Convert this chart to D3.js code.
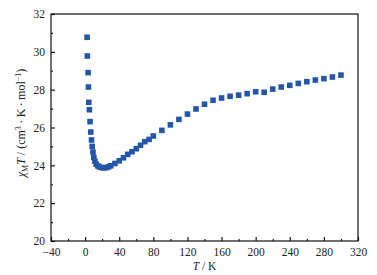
<!DOCTYPE html>
<html><head><meta charset="utf-8">
<script src="https://cdn.jsdelivr.net/npm/d3@7"></script>
<style>body{margin:0;background:#fff}svg{display:block}text{font-family:"Liberation Serif","Times New Roman",serif;fill:#222}</style>
</head><body>
<svg id="c" width="377" height="275"></svg>
<script>
const temps = [2.3,2.6,3.5,3.9,4.3,5,5.8,6.6,7.5,8.3,9.2,10.2,11.5,13,15,17,19.5,22,25,27.5,30,35,40,45,50,55,60,65,70,75,80,90,100,110,120,130,140,150,160,170,180,190,200,210,220,230,240,250,260,270,280,290,300];
const chiT = [30.77,29.78,28.9,28.14,27.33,26.94,26.31,25.76,25.34,25.0,24.7,24.42,24.22,24.06,23.97,23.91,23.88,23.87,23.88,23.92,23.98,24.1,24.24,24.4,24.58,24.72,24.88,25.06,25.25,25.37,25.55,25.85,26.14,26.43,26.71,26.98,27.23,27.44,27.56,27.65,27.71,27.79,27.89,27.86,28.03,28.14,28.23,28.33,28.42,28.51,28.58,28.67,28.77];
const xTicks = [-40,0,40,80,120,160,200,240,280,320];
const yTicks = [20,22,24,26,28,30,32];

const svg = d3.select("#c");
const m = {l:51,t:14,r:358,b:241};
const x = d3.scaleLinear().domain([-40,320]).range([m.l,m.r]);
const y = d3.scaleLinear().domain([20,32]).range([m.b,m.t]);

svg.append("rect").attr("x",m.l).attr("y",m.t).attr("width",m.r-m.l).attr("height",m.b-m.t)
  .attr("fill","none").attr("stroke","#111").attr("stroke-width",1.2);

const xa = svg.append("g").attr("transform",`translate(0,${m.b})`)
  .call(d3.axisBottom(x).tickValues(xTicks).tickSize(-4).tickPadding(7).tickFormat(d3.format("d")));
const xm = svg.append("g").attr("transform",`translate(0,${m.b})`)
  .call(d3.axisBottom(x).tickValues(d3.range(-20,320,40)).tickSize(-2).tickFormat(""));
const ya = svg.append("g").attr("transform",`translate(${m.l},0)`)
  .call(d3.axisLeft(y).tickValues(yTicks).tickSize(-4).tickPadding(6));
const ym = svg.append("g").attr("transform",`translate(${m.l},0)`)
  .call(d3.axisLeft(y).tickValues(d3.range(21,32,2)).tickSize(-2).tickFormat(""));
[xa,xm,ya,ym].forEach(g=>{
  g.select(".domain").remove();
  g.selectAll("line").attr("stroke","#111").attr("stroke-width",1.2);
  g.selectAll("text").attr("font-size",11.5).attr("fill","#222").style("font-family",'"Liberation Serif",serif');
});
xa.selectAll("text").text(d=> d<0 ? "\u2212"+Math.abs(d) : d);

const s = 5.6;
svg.append("g").selectAll("rect").data(temps).join("rect")
  .attr("x",(d)=>x(d)-s/2).attr("y",(d,i)=>y(chiT[i])-s/2)
  .attr("width",s).attr("height",s).attr("fill","#2456a8");

const xl = svg.append("text").attr("x",(m.l+m.r)/2).attr("y",270).attr("text-anchor","middle").attr("font-size",11.5);
xl.append("tspan").attr("font-style","italic").text("T");
xl.append("tspan").text(" / K");

const yl = svg.append("text").attr("transform",`translate(25,123) rotate(-90)`).attr("text-anchor","middle").attr("font-size",12);
yl.append("tspan").attr("font-style","italic").text("χ");
yl.append("tspan").attr("font-size",8).attr("dy",2.5).text("M");
yl.append("tspan").attr("font-style","italic").attr("dy",-2.5).text("T");
yl.append("tspan").text(" / (cm");
yl.append("tspan").attr("font-size",8).attr("dy",-4.5).text("3");
yl.append("tspan").attr("dy",4.5).text("\u2009\u00b7\u2009K\u2009\u00b7\u2009mol");
yl.append("tspan").attr("font-size",8).attr("dy",-4.5).text("\u22121");
yl.append("tspan").attr("dy",4.5).text(")");
</script>
</body></html>
